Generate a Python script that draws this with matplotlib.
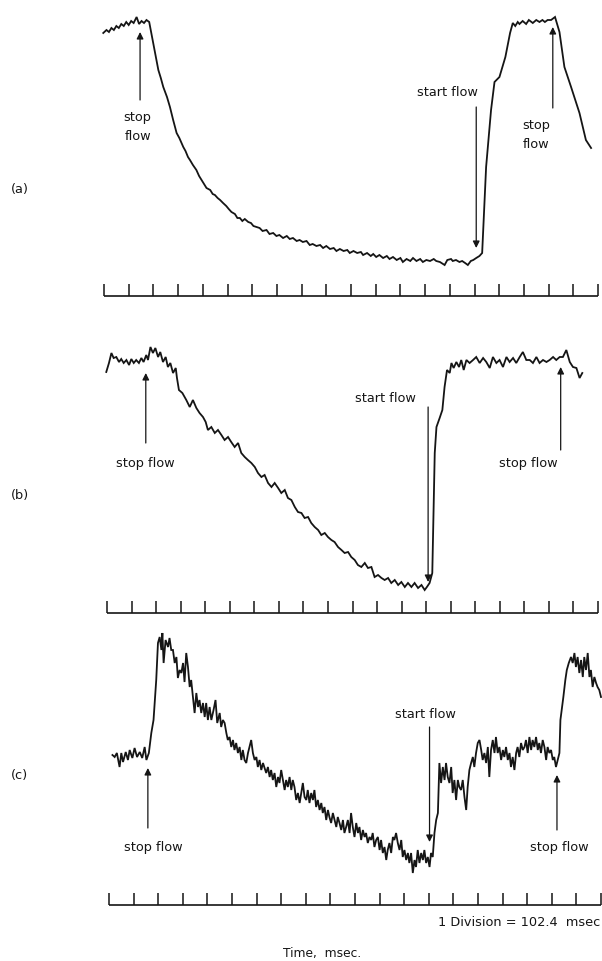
import matplotlib.pyplot as plt

# ----------------------------------------------------------------
# DATA  (time in chart divisions, signal in relative units)
# ----------------------------------------------------------------
tick_divs = list(range(21))

# panel (a)
t_a = [-0.03, 0.10, 0.20, 0.30, 0.40, 0.50, 0.60, 0.70, 0.80, 0.90, 1.00,
       1.10, 1.20, 1.32, 1.42, 1.52, 1.62, 1.72, 1.83,
       1.99, 2.10, 2.20, 2.30, 2.40, 2.55, 2.67, 2.80, 2.94, 3.05, 3.21,
       3.30, 3.40, 3.48, 3.60, 3.74, 3.85, 3.95, 4.05, 4.15, 4.30, 4.40,
       4.49, 4.60, 4.70, 4.82, 4.95, 5.05, 5.16, 5.30, 5.40, 5.50, 5.60,
       5.70, 5.84, 5.95, 6.05, 6.17, 6.30, 6.42, 6.58, 6.70, 6.85, 6.98,
       7.10, 7.25, 7.40, 7.52, 7.65, 7.80, 7.92, 8.05, 8.20, 8.33, 8.45,
       8.60, 8.75, 8.87, 9.00, 9.15, 9.30, 9.41, 9.55, 9.70, 9.85, 9.95,
       10.10, 10.25, 10.40, 10.49, 10.65, 10.80, 10.90, 11.02, 11.15,
       11.30, 11.45, 11.56, 11.70, 11.85, 12.00, 12.10, 12.25, 12.40,
       12.51, 12.65, 12.80, 12.91, 13.05, 13.20, 13.35, 13.45, 13.60,
       13.79, 13.90, 14.05, 14.12, 14.25, 14.39, 14.50, 14.62, 14.73,
       14.85, 14.95, 15.07, 15.20, 15.31,
       15.47, 15.67, 15.81, 16.01, 16.25, 16.44, 16.55, 16.65, 16.75,
       16.82, 16.95, 17.09, 17.20, 17.36, 17.50, 17.63, 17.75, 17.85,
       17.96, 18.10, 18.26, 18.44, 18.64, 18.91, 19.25, 19.51, 19.72]
s_a = [263, 266, 264, 268, 266, 270, 268, 272, 270, 274, 271,
       275, 273, 279, 272, 275, 273, 276, 274,
       253, 238, 226, 218, 209, 199, 189, 176, 163, 158, 149,
       145, 139, 136, 131, 126, 120, 116, 112, 108, 106, 102,
       101, 98, 96, 93, 90, 87, 84, 82, 78, 78, 75,
       77, 74, 73, 70, 69, 68, 65, 66, 62, 63, 60,
       61, 58, 60, 57, 58, 55, 56, 54, 55, 51, 52,
       50, 51, 48, 50, 47, 48, 45, 47, 45, 46, 43,
       45, 43, 44, 41, 43, 40, 42, 39, 41,
       38, 40, 37, 39, 36, 38, 34, 37, 35,
       38, 35, 37, 34, 36, 35, 37, 35, 34,
       31, 36, 37, 35, 36, 34, 35, 33, 31,
       35, 36, 38, 40, 43,
       129, 186, 214, 219, 239, 263, 273, 270, 274,
       272, 275, 272, 276, 273, 276, 274, 276, 274,
       276, 276, 279, 264, 229, 209, 183, 156, 148]

# panel (b)
t_b = [-0.03, 0.08, 0.18, 0.27, 0.38, 0.49, 0.58, 0.68, 0.79, 0.90, 0.99,
       1.09, 1.19, 1.30, 1.40, 1.49, 1.60, 1.67, 1.77, 1.87, 1.97, 2.08,
       2.17, 2.28, 2.39, 2.48, 2.58, 2.69, 2.80, 2.85, 2.93, 3.07, 3.23,
       3.37, 3.50, 3.64, 3.77, 3.91, 4.02, 4.11, 4.25, 4.39, 4.52, 4.66,
       4.79, 4.93, 5.06, 5.20, 5.34, 5.47, 5.61, 5.74, 5.88, 6.02, 6.15,
       6.29, 6.42, 6.56, 6.70, 6.83, 6.97, 7.10, 7.24, 7.37, 7.51, 7.65,
       7.78, 7.92, 8.05, 8.19, 8.32, 8.46, 8.60, 8.73, 8.87, 9.00, 9.14,
       9.27, 9.41, 9.55, 9.68, 9.82, 9.95, 10.09, 10.22, 10.36, 10.50,
       10.63, 10.77, 10.90, 11.04, 11.18, 11.31, 11.45, 11.58, 11.72,
       11.86, 11.99, 12.13, 12.26, 12.40, 12.53, 12.67, 12.81, 12.94,
       13.03, 13.14, 13.25, 13.35, 13.42, 13.55, 13.66, 13.75, 13.85,
       13.96, 14.03, 14.12, 14.23, 14.34, 14.43, 14.53, 14.64, 14.77,
       14.91, 15.04, 15.18, 15.32, 15.45, 15.59, 15.72, 15.86, 15.99,
       16.13, 16.27, 16.40, 16.54, 16.67, 16.81, 16.94, 17.08, 17.22,
       17.35, 17.49, 17.62, 17.76, 17.90, 18.03, 18.17, 18.30, 18.44,
       18.57, 18.71, 18.85, 18.98, 19.12, 19.25, 19.36]
s_b = [241, 250, 260, 255, 256, 251, 254, 250, 253, 248, 254,
       250, 253, 250, 255, 251, 258, 253, 266, 260, 265, 256,
       261, 251, 256, 246, 250, 240, 245, 235, 223, 220, 213,
       206, 213, 205, 200, 196, 191, 183, 186, 180, 183, 178,
       173, 176, 171, 166, 170, 160, 156, 153, 150, 146, 140,
       136, 138, 130, 126, 130, 125, 120, 123, 115, 113, 106,
       101, 100, 95, 96, 90, 86, 83, 78, 80, 76, 73,
       71, 66, 63, 60, 61, 56, 53, 48, 46, 50,
       45, 46, 36, 38, 35, 33, 35, 30, 33,
       28, 31, 26, 30, 26, 30, 25, 28, 23,
       26, 30, 40, 160, 186, 195, 203, 226, 243,
       240, 250, 245, 251, 246, 253, 243, 253, 250,
       253, 256, 250, 255, 251, 245, 256, 250, 253,
       246, 256, 251, 255, 250, 256, 261, 253, 253,
       250, 256, 250, 253, 251, 253, 256, 253, 256,
       256, 263, 251, 246, 245, 235, 240]

# panel (c)
t_c = [0.14, 0.23, 0.32, 0.43, 0.50, 0.57, 0.68, 0.77, 0.84, 0.95, 1.04,
       1.14, 1.25, 1.35, 1.45, 1.52, 1.62, 1.72, 1.81, 1.92, 1.99, 2.06,
       2.13, 2.17, 2.22, 2.30, 2.40, 2.46, 2.53, 2.60, 2.67, 2.74, 2.80,
       2.87, 2.94, 3.01, 3.07, 3.14, 3.21, 3.28, 3.34, 3.41, 3.48, 3.55,
       3.62, 3.68, 3.75, 3.82, 3.89, 3.95, 4.02, 4.09, 4.16, 4.25, 4.33,
       4.40, 4.50, 4.56, 4.63, 4.70, 4.77, 4.83, 4.90, 4.97, 5.04, 5.10,
       5.17, 5.24, 5.31, 5.38, 5.44, 5.51, 5.58, 5.65, 5.71, 5.78, 5.85,
       5.92, 5.99, 6.05, 6.12, 6.19, 6.26, 6.39, 6.46, 6.53, 6.59, 6.66,
       6.73, 6.80, 6.87, 6.93, 7.00, 7.07, 7.14, 7.20, 7.27, 7.34, 7.41,
       7.47, 7.54, 7.61, 7.68, 7.75, 7.88, 7.95, 8.02, 8.08, 8.15, 8.22,
       8.29, 8.35, 8.42, 8.49, 8.56, 8.63, 8.69, 8.76, 8.83, 8.90, 8.96,
       9.03, 9.10, 9.17, 9.24, 9.30, 9.37, 9.44, 9.51, 9.57, 9.64, 9.71,
       9.78, 9.84, 9.91, 9.98, 10.05, 10.12, 10.18, 10.25, 10.32, 10.39,
       10.45, 10.52, 10.59, 10.66, 10.72, 10.79, 10.86, 10.93, 11.00,
       11.06, 11.13, 11.20, 11.27, 11.33, 11.40, 11.47, 11.54, 11.60,
       11.67, 11.74, 11.81, 11.88, 11.94, 12.01, 12.08, 12.15, 12.21,
       12.28, 12.35, 12.42, 12.48, 12.55, 12.62, 12.69, 12.76, 12.82,
       12.89, 12.96, 13.03, 13.09, 13.16, 13.23, 13.30, 13.37, 13.43,
       13.50, 13.57, 13.64, 13.70, 13.77, 13.84, 13.91, 13.97, 14.04,
       14.11, 14.18, 14.24, 14.31, 14.38, 14.45, 14.52, 14.58, 14.65,
       14.72, 14.79, 14.85, 14.92, 14.99, 15.06, 15.13, 15.19, 15.26,
       15.33, 15.40, 15.46, 15.53, 15.60, 15.67, 15.73, 15.80, 15.87,
       15.94, 16.01, 16.07, 16.14, 16.21, 16.28, 16.34, 16.41, 16.48,
       16.55, 16.61, 16.68, 16.75, 16.82, 16.89, 16.95, 17.02, 17.09,
       17.16, 17.22, 17.29, 17.36, 17.43, 17.49, 17.56, 17.63, 17.70,
       17.77, 17.83, 17.90, 17.97, 18.04, 18.10, 18.17, 18.24, 18.31,
       18.35, 18.42, 18.47, 18.55, 18.61, 18.69, 18.78, 18.85, 18.92,
       18.98, 19.05, 19.12, 19.19, 19.26, 19.32, 19.39, 19.46, 19.53,
       19.59, 19.66, 19.73, 19.80, 19.86, 19.93, 20.00]
s_c = [150, 148, 152, 138, 152, 143, 153, 145, 155, 147, 157,
       148, 153, 147, 158, 145, 152, 172, 185, 225, 262, 268,
       255, 272, 242, 265, 258, 267, 255, 255, 242, 248, 227,
       235, 232, 242, 223, 252, 238, 218, 225, 208, 192, 212,
       198, 205, 192, 202, 188, 202, 185, 198, 185, 195, 205,
       182, 192, 178, 185, 182, 172, 165, 168, 158, 165, 155,
       162, 152, 158, 145, 155, 145, 142, 152, 158, 165, 152,
       145, 148, 138, 145, 135, 142, 132, 138, 128, 135, 125,
       132, 118, 128, 122, 135, 125, 115, 125, 118, 128, 115,
       125, 118, 105, 112, 102, 122, 108, 105, 115, 102, 112,
       105, 115, 98, 105, 95, 102, 92, 98, 85, 95, 88,
       82, 92, 85, 78, 88, 82, 75, 85, 72, 78, 85,
       72, 92, 78, 68, 82, 72, 78, 65, 75, 68,
       72, 62, 68, 65, 72, 58, 65, 68, 55,
       65, 52, 58, 45, 55, 62, 52, 68, 65,
       72, 62, 55, 65, 48, 55, 45, 52, 42,
       52, 32, 45, 38, 55, 42, 52, 45, 55,
       42, 48, 38, 52, 48, 72, 85, 92, 142,
       122, 138, 125, 142, 128, 122, 138, 112, 125,
       105, 125, 118, 115, 125, 108, 95, 118, 135,
       142, 148, 138, 152, 162, 165, 155, 145, 152,
       142, 158, 128, 155, 165, 152, 168, 152, 158,
       145, 155, 148, 158, 145, 152, 138, 148, 135,
       152, 158, 148, 162, 155, 158, 165, 152, 168,
       155, 165, 158, 168, 155, 162, 152, 165, 158,
       145, 158, 152, 155, 145, 148, 138, 145, 152,
       185, 198, 208, 225, 235, 242, 248, 242, 252,
       238, 248, 232, 245, 228, 248, 235, 252, 228,
       235, 218, 228, 222, 218, 215, 208]

# annotations: (text, text_x, text_y, arrow_x, tail_y, head_y)
notes_a = [("stop\nflow", 1.36, 169, 1.46, 196, 264),
           ("start flow", 13.92, 203, 15.07, 189, 48),
           ("stop\nflow", 17.49, 161, 18.17, 188, 269)]
notes_b = [("stop flow", 1.58, 150, 1.58, 170, 240),
           ("start flow", 11.34, 215, 13.08, 206, 31),
           ("stop flow", 17.15, 150, 18.48, 163, 246)]
notes_c = [("stop flow", 1.79, 57, 1.58, 77, 137),
           ("start flow", 12.85, 191, 13.03, 178, 63),
           ("stop flow", 18.31, 57, 18.21, 75, 130)]

# ----------------------------------------------------------------
# LAYOUT (pixel geometry of the original strip chart)
# panel: (top_px, bottom_px, baseline_px, tick0_px, tick20_px)
# ----------------------------------------------------------------
W, H = 602, 961
panels = [
    ("(a)", t_a, s_a, notes_a, (0, 320, 296, 104, 598), 190),
    ("(b)", t_b, s_b, notes_b, (320, 620, 613, 107, 598), 496),
    ("(c)", t_c, s_c, notes_c, (620, 961, 905, 109, 601), 776),
]

plt.rcParams['font.family'] = ['DejaVu Sans']
ink = '#151515'
fs = 9.3

fig = plt.figure(figsize=(W / 100, H / 100), dpi=100)
fig.patch.set_facecolor('white')

for label, t, s, notes, geo, label_y in panels:
    top, bot, base, x0, x20 = geo
    ax = fig.add_axes([0, 1 - bot / H, 1, (bot - top) / H])
    scale = (x20 - x0) / 20.0
    ax.set_xlim(-x0 / scale, (W - x0) / scale)
    ax.set_ylim(base - bot, base - top)
    ax.axis('off')

    # trace
    ax.plot(t, s, color=ink, lw=1.3, solid_joinstyle='miter')

    # time ruler
    ax.plot([tick_divs[0], tick_divs[-1]], [0, 0], color=ink, lw=1.2,
            solid_capstyle='butt')
    ax.vlines(tick_divs, 0, 12, color=ink, lw=1.1)

    # arrows + labels
    for txt, tx, ty, axx, tail, head in notes:
        ax.annotate('', xy=(axx, head), xytext=(axx, tail),
                    arrowprops=dict(arrowstyle='-|>', color=ink, lw=0.9,
                                    mutation_scale=10, shrinkA=0,
                                    shrinkB=0))
        ax.text(tx, ty, txt, ha='center', va='center', fontsize=fs,
                color=ink, linespacing=1.55)

    fig.text(20 / W, 1 - label_y / H, label, ha='center', va='center',
             fontsize=fs, color=ink)

fig.text(600 / W, 1 - 923 / H, '1 Division = 102.4  msec', ha='right',
         va='center', fontsize=fs, color=ink)
fig.text(322 / W, 1 - 953 / H, 'Time,  msec.', ha='center', va='center',
         fontsize=fs - 0.5, color=ink)

fig.savefig('out.png', dpi=100, facecolor='white')
